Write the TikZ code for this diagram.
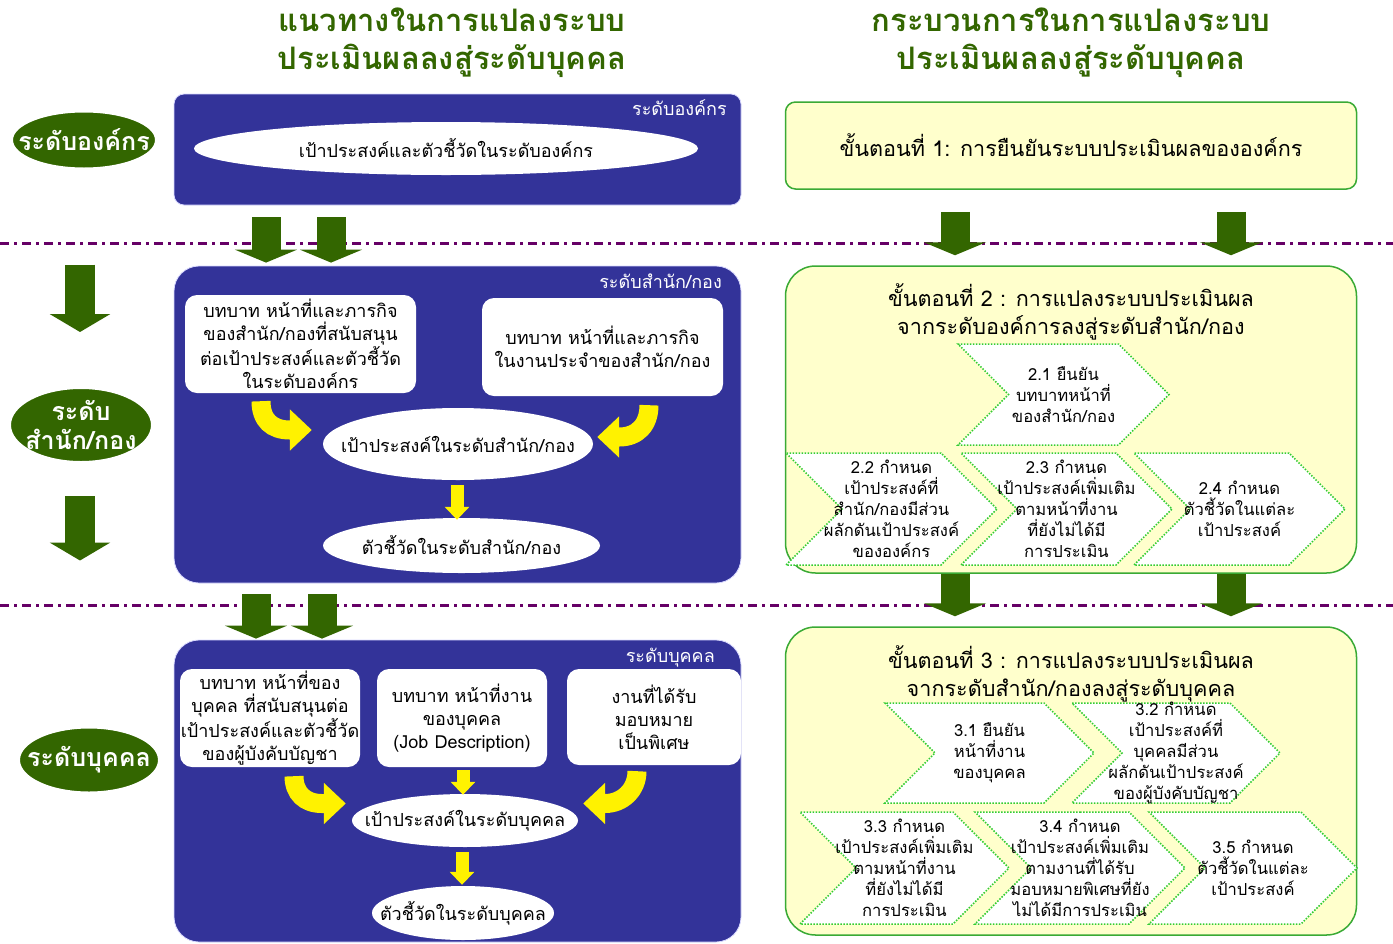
\documentclass[tikz,border=0pt]{standalone}
\usepackage{fontspec}
\setmainfont[Script=Thai]{Loma}
\usetikzlibrary{shapes.geometric, shapes.symbols, arrows.meta, positioning, calc}

\definecolor{dgreen}{HTML}{336600}
\definecolor{navy}{HTML}{333399}
\definecolor{paleyellow}{HTML}{FFFFCC}
\definecolor{stepgreen}{HTML}{3AAA35}
\definecolor{dotgreen}{HTML}{33CC33}
\definecolor{purpleline}{HTML}{660066}

\begin{document}
\begin{tikzpicture}[x=1pt, y=-1pt,
    heading/.style={text=dgreen, font=\fontsize{31}{38}\selectfont\bfseries, align=center},
    levelbadge/.style={ellipse, fill=dgreen, draw=white, line width=2pt, inner sep=0pt},
    badgetext/.style={text=white, font=\fontsize{25}{29}\selectfont\bfseries, align=center, inner sep=0pt},
    levelpanel/.style={rectangle, rounded corners=25pt, fill=navy, draw=blue!15, line width=0.8pt, inner sep=0pt},
    paneltag/.style={text=white, font=\fontsize{18}{20}\selectfont, anchor=east, inner sep=0pt},
    rolebox/.style={rectangle, rounded corners=12pt, fill=white, inner sep=0pt, align=center, font=\fontsize{18}{23}\selectfont},
    goaloval/.style={ellipse, fill=white, inner sep=0pt},
    goaltext/.style={font=\fontsize{18}{23}\selectfont, inner sep=0pt},
    stepbox/.style={rectangle, rounded corners=30pt, fill=paleyellow, draw=stepgreen, line width=1.5pt, inner sep=0pt},
    steptitle/.style={align=center, font=\fontsize{21.6}{28}\selectfont},
    chevron/.style={signal, signal from=west, signal to=east, fill=white, draw=dotgreen, line width=1.5pt, dash pattern=on 1.5pt off 1.5pt, inner sep=0pt},
    chevtext/.style={align=center, font=\fontsize{16.6}{21}\selectfont},
    levelline/.style={draw=purpleline, line width=3pt, dash pattern=on 9pt off 5pt on 3pt off 5pt},
    bigarrow/.style={draw=dgreen, line width=30pt, -{Triangle[length=18pt, width=60pt]}},
    flowarrow/.style={draw=dgreen, line width=29pt, -{Triangle[length=13pt, width=62pt]}},
    curvearrow/.style={draw=yellow, line width=19pt, -{Triangle[length=22pt, width=40pt]}},
    downarrow/.style={draw=yellow, line width=13pt, -{Triangle[length=13pt, width=24pt]}}
]
\useasboundingbox (0,0) rectangle (1393,943);
\fill[white] (0,0) rectangle (1393,943);

% Headings
\node[heading] (headL) at (452,43) {แนวทางในการแปลงระบบ\\ประเมินผลลงสู่ระดับบุคคล};
\node[heading] (headR) at (1071,43) {กระบวนการในการแปลงระบบ\\ประเมินผลลงสู่ระดับบุคคล};

% Level separators
\draw[levelline] (0,243) -- (1393,243);
\draw[levelline] (0,605) -- (1393,605);

% Level badges
\node[levelbadge, minimum width=144pt, minimum height=57pt] (bOrg) at (84,140) {};
\node[badgetext] at (bOrg) {ระดับองค์กร};
\node[levelbadge, minimum width=142pt, minimum height=74pt] (bDiv) at (81,425) {};
\node[badgetext] at (bDiv) {ระดับ\\สำนัก/กอง};
\node[levelbadge, minimum width=140pt, minimum height=65pt] (bInd) at (89,760) {};
\node[badgetext] at (bInd) {ระดับบุคคล};

\draw[bigarrow] ($(bOrg.south)+(-4,95)$) -- ($(bDiv.north)+(-1,-55)$);
\draw[bigarrow] ($(bDiv.south)+(-1,33)$) -- ($(bInd.north)+(-9,-166)$);

% Organisation panel
\node[levelpanel, rounded corners=10pt, minimum width=567pt, minimum height=111pt] (org) at (457.5,149.5) {};
\node[paneltag] at (727,108) {ระดับองค์กร};
\node[goaloval, minimum width=504pt, minimum height=53pt] (orgGoal) at (446,148.5) {};
\node[goaltext] at (orgGoal) {เป้าประสงค์และตัวชี้วัดในระดับองค์กร};

% Division panel
\node[levelpanel, minimum width=567pt, minimum height=317pt] (div) at (457.5,424.5) {};
\node[paneltag] at (722,281) {ระดับสำนัก/กอง};
\node[rolebox, minimum width=231pt, minimum height=98pt] (divRole1) at (300.5,344) {บทบาท หน้าที่และภารกิจ\\ของสำนัก/กองที่สนับสนุน\\ต่อเป้าประสงค์และตัวชี้วัด\\ในระดับองค์กร};
\node[rolebox, minimum width=241pt, minimum height=98pt] (divRole2) at (602.5,347) {บทบาท หน้าที่และภารกิจ\\ในงานประจำของสำนัก/กอง};
\node[goaloval, minimum width=270pt, minimum height=72pt] (divGoal) at (458,444) {};
\node[goaltext] at (divGoal) {เป้าประสงค์ในระดับสำนัก/กอง};
\node[goaloval, minimum width=277pt, minimum height=55pt] (divKpi) at (461.5,545.5) {};
\node[goaltext] at (divKpi) {ตัวชี้วัดในระดับสำนัก/กอง};

\draw[curvearrow] ($(divRole1.south)+(-39.5,8)$) .. controls +(0,19) and +(-18,0) .. ($(divGoal.west)+(-33,-14)$) -- ($(divGoal.west)+(-11,-14)$);
\draw[curvearrow] ($(divRole2.south)+(46.5,9)$) .. controls +(0,20) and +(18,0) .. ($(divGoal.east)+(26,-7)$) -- ($(divGoal.east)+(4,-7)$);
\draw[downarrow] ($(divGoal.south)+(-1,5)$) -- ($(divGoal.south |- divKpi.north)+(-1,2)$);

% Individual panel
\node[levelpanel, minimum width=567pt, minimum height=302pt] (ind) at (457.5,791) {};
\node[paneltag] at (715,658) {ระดับบุคคล};
\node[rolebox, minimum width=180pt, minimum height=98pt] (indRole1) at (270,718) {บทบาท หน้าที่ของ\\บุคคล ที่สนับสนุนต่อ\\เป้าประสงค์และตัวชี้วัด\\ของผู้บังคับบัญชา};
\node[rolebox, minimum width=170pt, minimum height=98pt] (indRole2) at (462,718) {บทบาท หน้าที่งาน\\ของบุคคล\\(Job Description)};
\node[rolebox, minimum width=174pt, minimum height=96pt] (indRole3) at (654,717) {งานที่ได้รับ\\มอบหมาย\\เป็นพิเศษ};
\node[goaloval, minimum width=226pt, minimum height=53pt] (indGoal) at (465,820.5) {};
\node[goaltext] at (indGoal) {เป้าประสงค์ในระดับบุคคล};
\node[goaloval, minimum width=182pt, minimum height=54pt] (indKpi) at (463,913) {};
\node[goaltext] at (indKpi) {ตัวชี้วัดในระดับบุคคล};

\draw[curvearrow] ($(indRole1.south)+(24,9)$) .. controls +(0,17) and +(-17,0) .. ($(indGoal.west)+(-30,-17)$) -- ($(indGoal.west)+(-6,-17)$);
\draw[curvearrow] ($(indRole3.south)+(-17,6)$) .. controls +(0,19) and +(17,0) .. ($(indGoal.east)+(27,-17)$) -- ($(indGoal.east)+(5,-17)$);
\draw[downarrow] ($(indRole2.south)+(1,3)$) -- ($(indRole2.south |- indGoal.north)+(1,1)$);
\draw[downarrow] ($(indGoal.south)+(-3,5)$) -- ($(indGoal.south |- indKpi.north)+(-3,-1)$);

% Arrows between panels
\draw[flowarrow] ($(org.south)+(-191.5,12)$) -- ($(div.north)+(-191.5,-3)$);
\draw[flowarrow] ($(org.south)+(-126.5,12)$) -- ($(div.north)+(-126.5,-3)$);
\draw[flowarrow] ($(div.south)+(-201.5,11)$) -- ($(ind.north)+(-201.5,-1)$);
\draw[flowarrow] ($(div.south)+(-135.5,11)$) -- ($(ind.north)+(-135.5,-1)$);

% Step boxes
\node[stepbox, rounded corners=10pt, minimum width=571pt, minimum height=87pt] (step1) at (1071,145.5) {};
\node[steptitle] at (step1) {ขั้นตอนที่ 1: การยืนยันระบบประเมินผลขององค์กร};

\node[stepbox, minimum width=571pt, minimum height=307pt] (step2) at (1071,419.5) {};
\node[steptitle] at (1071,312) {ขั้นตอนที่ 2 : การแปลงระบบประเมินผล\\จากระดับองค์การลงสู่ระดับสำนัก/กอง};

\node[chevron, minimum width=211pt, minimum height=101pt] (s21) at (1063.5,394.5) {};
\node[chevtext] at (s21) {2.1 ยืนยัน\\บทบาทหน้าที่\\ของสำนัก/กอง};
\node[chevron, minimum width=211pt, minimum height=112pt] (s22) at (891.5,509) {};
\node[chevtext] at (s22) {2.2 กำหนด\\เป้าประสงค์ที่\\สำนัก/กองมีส่วน\\ผลักดันเป้าประสงค์\\ขององค์กร};
\node[chevron, minimum width=211pt, minimum height=112pt] (s23) at (1066.5,509) {};
\node[chevtext] at (s23) {2.3 กำหนด\\เป้าประสงค์เพิ่มเติม\\ตามหน้าที่งาน\\ที่ยังไม่ได้มี\\การประเมิน};
\node[chevron, minimum width=211pt, minimum height=112pt] (s24) at (1239.5,509) {};
\node[chevtext] at (s24) {2.4 กำหนด\\ตัวชี้วัดในแต่ละ\\เป้าประสงค์};

\node[stepbox, minimum width=571pt, minimum height=308pt] (step3) at (1071,781) {};
\node[steptitle] at (1071,674) {ขั้นตอนที่ 3 : การแปลงระบบประเมินผล\\จากระดับสำนัก/กองลงสู่ระดับบุคคล};

\node[chevron, minimum width=209pt, minimum height=100pt] (s31) at (989.5,753) {};
\node[chevtext] at (s31) {3.1 ยืนยัน\\หน้าที่งาน\\ของบุคคล};
\node[chevron, minimum width=208pt, minimum height=100pt] (s32) at (1176,753) {};
\node[chevtext] at (s32) {3.2 กำหนด\\เป้าประสงค์ที่\\บุคคลมีส่วน\\ผลักดันเป้าประสงค์\\ของผู้บังคับบัญชา};
\node[chevron, minimum width=209pt, minimum height=112pt] (s33) at (904.5,868) {};
\node[chevtext] at (s33) {3.3 กำหนด\\เป้าประสงค์เพิ่มเติม\\ตามหน้าที่งาน\\ที่ยังไม่ได้มี\\การประเมิน};
\node[chevron, minimum width=210pt, minimum height=112pt] (s34) at (1080,868) {};
\node[chevtext] at (s34) {3.4 กำหนด\\เป้าประสงค์เพิ่มเติม\\ตามงานที่ได้รับ\\มอบหมายพิเศษที่ยัง\\ไม่ได้มีการประเมิน};
\node[chevron, minimum width=208pt, minimum height=112pt] (s35) at (1253,868) {};
\node[chevtext] at (s35) {3.5 กำหนด\\ตัวชี้วัดในแต่ละ\\เป้าประสงค์};

\draw[flowarrow] ($(step1.south)+(-116,22)$) -- ($(step2.north)+(-116,-10)$);
\draw[flowarrow] ($(step1.south)+(160,22)$) -- ($(step2.north)+(160,-10)$);
\draw[flowarrow] (step2.south -| 955,0) -- ($(step3.north -| 955,0)+(0,-10)$);
\draw[flowarrow] (step2.south -| 1231,0) -- ($(step3.north -| 1231,0)+(0,-10)$);

\end{tikzpicture}
\end{document}
